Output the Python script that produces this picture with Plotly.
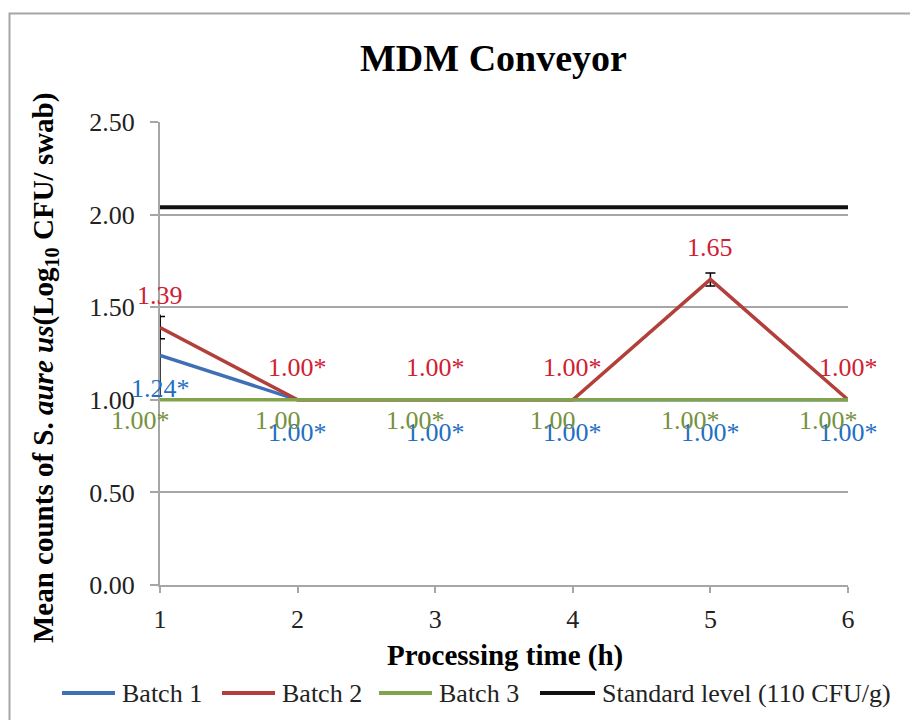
import plotly.graph_objects as go

# ---- data ----
time_h = [1, 2, 3, 4, 5, 6]
batch1 = [1.24, 1.00, 1.00, 1.00, 1.00, 1.00]
batch2 = [1.39, 1.00, 1.00, 1.00, 1.65, 1.00]
batch3 = [1.00, 1.00, 1.00, 1.00, 1.00, 1.00]
batch1_err = [0.22, 0, 0, 0, 0, 0]
batch2_err = [0.06, 0, 0, 0, 0.035, 0]
batch1_labels = ["1.24*", "1.00*", "1.00*", "1.00*", "1.00*", "1.00*"]
batch2_labels = ["1.39", "1.00*", "1.00*", "1.00*", "1.65", "1.00*"]
batch3_labels = ["1.00*", "1.00", "1.00*", "1.00", "1.00*", "1.00*"]
standard_level = 2.04  # log10(110 CFU/g)
y_ticks = [0.0, 0.5, 1.0, 1.5, 2.0, 2.5]
series_names = ["Batch 1", "Batch 2", "Batch 3", "Standard level (110 CFU/g)"]

FONT = "Liberation Serif, Times New Roman, serif"
C1, C2, C3, C4 = "#3f6fb5", "#b23f3a", "#80a34b", "#111111"
T1, T2, T3 = "#1f6fc2", "#cf2032", "#76923c"

fig = go.Figure()
fig.add_trace(go.Scatter(x=time_h, y=batch1, mode="lines", name=series_names[0],
                         line=dict(color=C1, width=3.5), cliponaxis=False,
                         error_y=dict(type="data", array=batch1_err, color="black",
                                      thickness=1.5, width=0)))
fig.add_trace(go.Scatter(x=time_h, y=batch2, mode="lines", name=series_names[1],
                         line=dict(color=C2, width=3.5), cliponaxis=False,
                         error_y=dict(type="data", array=batch2_err, color="black",
                                      thickness=1.5, width=5)))
fig.add_trace(go.Scatter(x=time_h, y=batch3, mode="lines", name=series_names[2],
                         line=dict(color=C3, width=3.5), cliponaxis=False))
fig.add_trace(go.Scatter(x=[time_h[0], time_h[-1]], y=[standard_level, standard_level],
                         mode="lines", name=series_names[3],
                         line=dict(color=C4, width=4), cliponaxis=False))

LS = 26
ann = []
for x, y, t in zip(time_h, batch2, batch2_labels):
    ann.append(dict(x=x, y=y, text=t, showarrow=False, yshift=32,
                    font=dict(family=FONT, size=LS, color=T2)))
for x, y, t in zip(time_h, batch1, batch1_labels):
    ann.append(dict(x=x, y=y, text=t, showarrow=False, yshift=-33,
                    font=dict(family=FONT, size=LS, color=T1)))
for x, y, t in zip(time_h, batch3, batch3_labels):
    ann.append(dict(x=x, y=y, text=t, showarrow=False, xshift=-20, yshift=-21,
                    font=dict(family=FONT, size=LS, color=T3)))

def px_x(sx):  # screen x -> paper x
    return (sx - 160) / 688.0

def px_y(sy):  # screen y -> paper y
    return (585 - sy) / 463.0

ann.append(dict(x=px_x(493), y=px_y(58), xref="paper", yref="paper", showarrow=False,
                xanchor="center", yanchor="middle",
                text="<b>MDM Conveyor</b>", font=dict(family=FONT, size=38, color="black")))
ann.append(dict(x=px_x(505), y=px_y(655), xref="paper", yref="paper", showarrow=False,
                xanchor="center", yanchor="middle",
                text="<b>Processing time (h)</b>", font=dict(family=FONT, size=29, color="black")))
ann.append(dict(x=px_x(45), y=px_y(368), xref="paper", yref="paper", showarrow=False,
                xanchor="center", yanchor="middle", textangle=-90,
                text="<b>Mean counts of S. <i>aure us</i>(Log<sub>10</sub> CFU/ swab)</b>",
                font=dict(family=FONT, size=29, color="black")))

# custom legend (long line samples like the original)
shapes = [dict(type="rect", xref="paper", yref="paper", x0=px_x(9.5), x1=px_x(917),
               y0=px_y(740), y1=px_y(13.5), line=dict(color="#a6a6a6", width=2))]
leg_lines = [(62, 115), (222, 275), (379, 432), (540, 595)]
leg_y = 693
for (a, b), name, col in zip(leg_lines, series_names, [C1, C2, C3, C4]):
    shapes.append(dict(type="line", xref="paper", yref="paper", x0=px_x(a), x1=px_x(b),
                       y0=px_y(leg_y), y1=px_y(leg_y), line=dict(color=col, width=4)))
    ann.append(dict(x=px_x(b + 5), y=px_y(leg_y), xref="paper", yref="paper",
                    showarrow=False, xanchor="left", yanchor="middle", text=name,
                    font=dict(family=FONT, size=26, color="#222")))

fig.update_layout(
    width=910, height=712,
    margin=dict(l=152, r=70, t=114, b=135),
    paper_bgcolor="white", plot_bgcolor="white",
    font=dict(family=FONT, size=26, color="#222"),
    showlegend=False,
    annotations=ann,
    shapes=shapes,
    xaxis=dict(range=[1, 6], tickvals=time_h, showgrid=False, zeroline=False,
               showline=True, linecolor="#a6a6a6", linewidth=2,
               ticks="outside", ticklen=6, tickcolor="#a6a6a6", tickwidth=2,
               ticklabelstandoff=4,
               tickfont=dict(family=FONT, size=26, color="#222")),
    yaxis=dict(range=[0, 2.5], tickvals=y_ticks, tickformat=".2f", showgrid=True,
               gridcolor="#a6a6a6", gridwidth=2, zeroline=False,
               showline=True, linecolor="#a6a6a6", linewidth=2,
               ticks="outside", ticklen=8, tickcolor="#a6a6a6", tickwidth=2,
               ticklabelstandoff=10,
               tickfont=dict(family=FONT, size=26, color="#222")),
)

fig.write_html("out.html")
